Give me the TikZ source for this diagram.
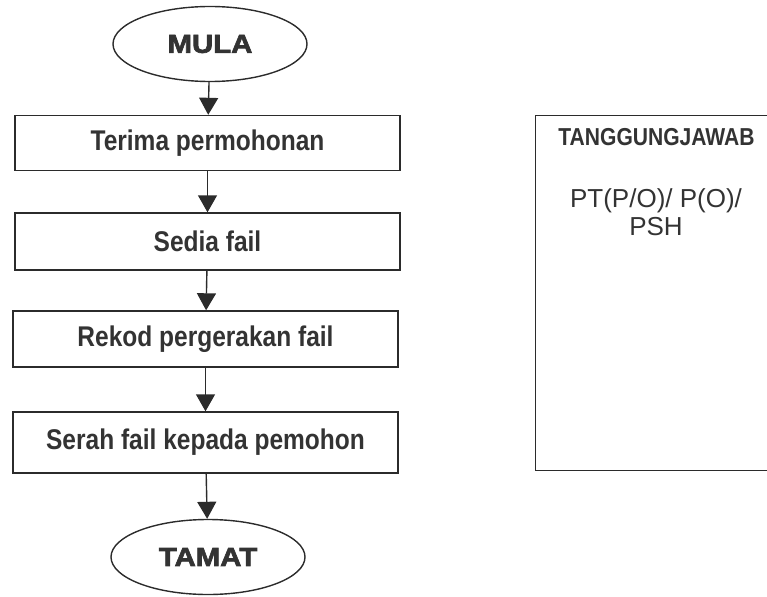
\documentclass[tikz,border=0pt]{standalone}
\usepackage{fontspec}
\setmainfont{Liberation Sans}
\newfontfamily\heavyfont{Liberation Sans}[FakeStretch=1.13, BoldFeatures={FakeBold=2.5}]
\newfontfamily\narrowfont{Liberation Sans}[FakeStretch=0.86]
\usetikzlibrary{shapes.geometric,arrows.meta}
\definecolor{ink}{HTML}{2B2B2B}
\definecolor{txt}{HTML}{333333}
\tikzset{
  every node/.style={text=txt},
  terminal/.style={draw=ink, line width=1.4pt, ellipse, minimum width=194pt, minimum height=75pt, inner sep=0pt, font=\heavyfont\bfseries\fontsize{26}{26}\selectfont},
  stepbox/.style={draw=ink, line width=1.4pt, rectangle, minimum width=385pt, inner sep=0pt, font=\narrowfont\bfseries\fontsize{28.5}{28.5}\selectfont},
  flow/.style={draw=ink, line width=1.4pt, -{Triangle[length=17pt,width=19pt]}},
}
\begin{document}
\begin{tikzpicture}[x=1pt,y=-1pt]
\useasboundingbox (0,0) rectangle (767,596);
\clip (0,0) rectangle (767,596);
% start and end terminals
\node[terminal] (start) at (210,44) {MULA};
\node[terminal] (end) at (208,557) {TAMAT};
% process steps
\node[stepbox, minimum height=55pt] (s1) at (207.5,143) {Terima permohonan};
\node[stepbox, minimum height=57pt] (s2) at (207.5,241.5) {Sedia fail};
\node[stepbox, minimum height=56pt] (s3) at (205.5,339) {Rekod pergerakan fail};
\node[stepbox, minimum height=61pt] (s4) at (205.5,442.5) {Serah fail kepada pemohon};
% connectors
\draw[flow] (start) -- (s1);
\draw[flow] (s1) -- (s2);
\draw[flow] (s2) -- (s3);
\draw[flow] (s3) -- (s4);
\draw[flow] (s4) -- (end);
% responsibility panel
\node[draw=ink, line width=1.4pt, rectangle, minimum width=250pt, minimum height=355pt, anchor=north west, inner sep=0pt] (resp) at (535,115) {};
\node[font=\narrowfont\bfseries\fontsize{24.5}{24.5}\selectfont, anchor=base] (resptitle) at (656.5,146) {TANGGUNGJAWAB};
% multi-line node: its base anchor sits on the last line
\node[font=\fontsize{26}{28}\selectfont, align=center, anchor=base] (respwho) at (656,235) {PT(P/O)/ P(O)/\\PSH};
\end{tikzpicture}
\end{document}
